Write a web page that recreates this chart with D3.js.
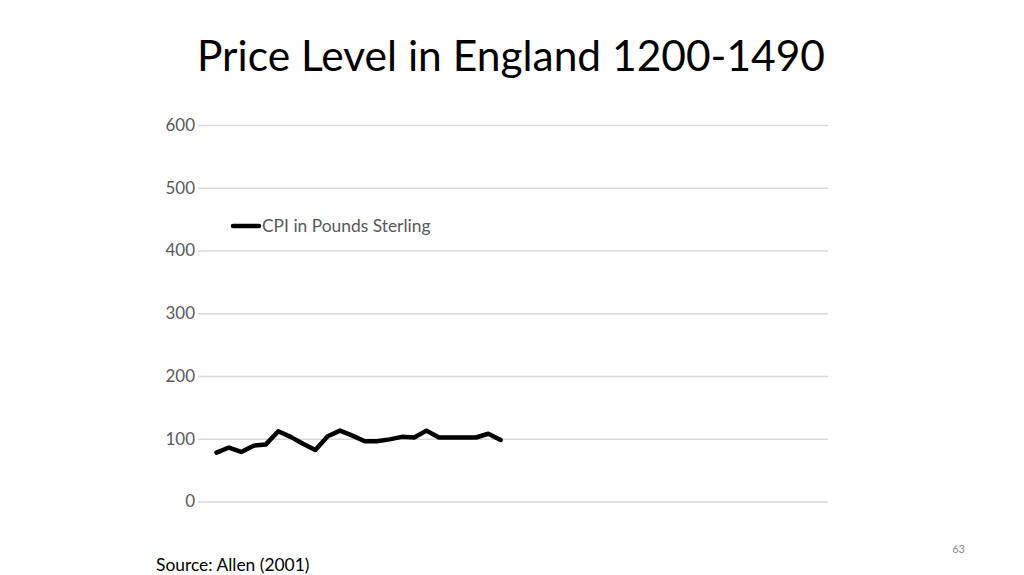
<!DOCTYPE html>
<html>
<head>
<meta charset="utf-8">
<script src="https://cdn.jsdelivr.net/npm/d3@7"></script>
<style>
  body { margin: 0; background: #fff; }
  svg { display: block; font-family: Lato, "Open Sans", sans-serif; }
</style>
</head>
<body>
<svg id="chart" width="1024" height="575"></svg>
<script>
//category slots on the x axis (no labels are shown)
var years = ['1190','1200','1210','1220','1230','1240','1250','1260','1270','1280',
             '1290','1300','1310','1320','1330','1340','1350','1360','1370','1380',
             '1390','1400','1410','1420','1430','1440','1450','1460','1470','1480',
             '1490','1500','1510','1520','1530','1540','1550','1560','1570','1580',
             '1590','1600','1610','1620','1630','1640','1650','1660','1670','1680','1690'];

//years that carry a value
var dataYears = ['1200','1210','1220','1230','1240','1250','1260','1270','1280','1290',
                 '1300','1310','1320','1330','1340','1350','1360','1370','1380','1390',
                 '1400','1410','1420','1430'];

//cpi values
var cpi = [78, 86, 79, 89, 91, 112, 103, 92, 82, 104,
           113, 105, 96, 96, 99, 103, 102, 113, 102, 102,
           102, 102, 108, 98];

var yTicks = [0, 100, 200, 300, 400, 500, 600];

var svg = d3.select('#chart'),
    plot = { left: 198, right: 828, top: 125, bottom: 501.5 };

var x = d3.scaleBand().domain(years).range([plot.left, plot.right]),
    y = d3.scaleLinear().domain([0, 600]).range([plot.bottom, plot.top]);

//title
svg.append('text')
    .attr('x', 511).attr('y', 71)
    .attr('text-anchor', 'middle')
    .attr('font-size', 42.5)
    .attr('fill', '#000')
    .text('Price Level in England 1200-1490');

//y axis with gridlines
var yAxis = svg.append('g')
    .attr('transform', 'translate(' + plot.left + ',0)')
    .call(d3.axisLeft(y).tickValues(yTicks).tickSize(-(plot.right - plot.left)).tickPadding(3));

yAxis.select('.domain').remove();
yAxis.selectAll('.tick line').attr('stroke', '#d9d9d9').attr('stroke-width', 1.3);
yAxis.selectAll('.tick text')
    .attr('font-size', 17)
    .attr('fill', '#595959')
    .attr('font-family', 'Lato, "Open Sans", sans-serif');

//data line
var points = dataYears.map(function (d, i) { return { year: d, value: cpi[i] }; });

var line = d3.line()
    .x(function (d) { return x(d.year) + x.bandwidth() / 2; })
    .y(function (d) { return y(d.value); });

svg.append('path')
    .datum(points)
    .attr('d', line)
    .attr('fill', 'none')
    .attr('stroke', '#000')
    .attr('stroke-width', 4.5)
    .attr('stroke-linejoin', 'round')
    .attr('stroke-linecap', 'round');

//legend
var legend = svg.append('g').attr('transform', 'translate(233,226)');
legend.append('line')
    .attr('x1', 0).attr('x2', 26)
    .attr('stroke', '#000').attr('stroke-width', 4.5).attr('stroke-linecap', 'round');
legend.append('text')
    .attr('x', 29).attr('y', 6)
    .attr('font-size', 17.4)
    .attr('fill', '#595959')
    .text('CPI in Pounds Sterling');

//source note
svg.append('text')
    .attr('x', 156).attr('y', 571)
    .attr('font-size', 17.4)
    .attr('fill', '#000')
    .text('Source: Allen (2001)');

//slide number
svg.append('text')
    .attr('x', 965).attr('y', 553)
    .attr('text-anchor', 'end')
    .attr('font-size', 11)
    .attr('fill', '#8c8c8c')
    .text('63');
</script>
</body>
</html>
